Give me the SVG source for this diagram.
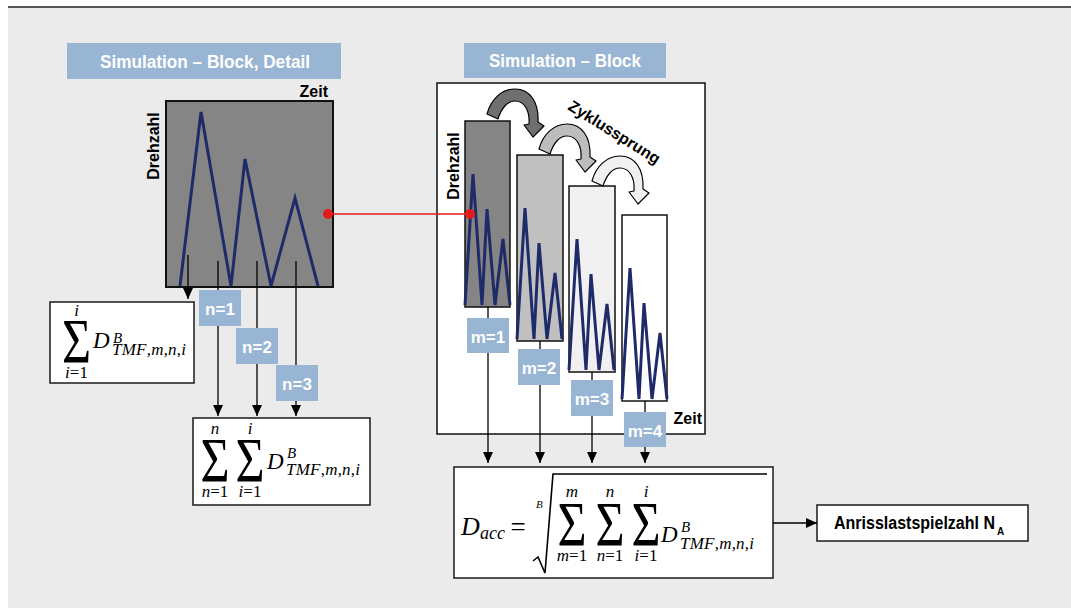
<svg xmlns="http://www.w3.org/2000/svg" width="1071" height="609" viewBox="0 0 1071 609">
  <style>
    .sans{font-family:"Liberation Sans",Arial,sans-serif;font-weight:bold}
    .title{font-size:18px;fill:#fff}
    .axis{font-size:16px;fill:#000}
    .tag rect{fill:#98b5d3}
    .tag text{font-family:"Liberation Sans",Arial,sans-serif;font-weight:bold;font-size:17px;fill:#fff;text-anchor:middle}
    .math{font-family:"Liberation Serif","Times New Roman",serif;font-style:italic;fill:#000}
    .up{font-style:normal}
    .sig{font-family:"Liberation Serif","Times New Roman",serif;font-size:50px;text-anchor:middle;fill:#000}
    .box{fill:#fff;stroke:#1a1a1a;stroke-width:1.5}
    .wire{stroke:#000;stroke-width:1.3;fill:none}
  </style>
  <defs>
    <marker id="tip" viewBox="0 0 11 10" refX="11" refY="5" markerWidth="11" markerHeight="10" markerUnits="userSpaceOnUse" orient="auto">
      <path d="M0,0 L11,5 L0,10 Z" fill="#000"/>
    </marker>
    <!-- speed trace inside one block -->
    <polyline id="zz" points="0,184 8,53 17,184 22,88 30,184 38,118 45,184" fill="none" stroke="#1f2b69" stroke-width="3"/>
    <!-- curved block arrow for the cycle jump -->
    <path id="jump" d="M487,114 C491,99 502,89 515,89 C530,89 539,102 538,122 L544,126 L533,137 L524,125 L529,124 C530,110 524,101 515,101 C507,101 501,109 498,119 Z" stroke="#000" stroke-width="1.2" stroke-linejoin="round"/>
  </defs>

  <!-- page -->
  <rect x="0" y="0" width="1071" height="609" fill="#fff"/>
  <rect x="8" y="7" width="1063" height="601" fill="#ebebeb"/>
  <line x1="8" y1="7" x2="1071" y2="7" stroke="#222" stroke-width="1.5"/>

  <!-- headers -->
  <g id="title-detail">
    <rect x="67" y="43" width="274" height="36" fill="#98b5d3"/>
    <text class="sans title" x="205" y="68" text-anchor="middle" textLength="210" lengthAdjust="spacingAndGlyphs">Simulation – Block, Detail</text>
  </g>
  <g id="title-block">
    <rect x="464" y="43" width="202" height="35" fill="#98b5d3"/>
    <text class="sans title" x="565" y="67" text-anchor="middle" textLength="152" lengthAdjust="spacingAndGlyphs">Simulation – Block</text>
  </g>

  <!-- single block in detail -->
  <g id="detail-plot">
    <rect x="166" y="101" width="167" height="186" fill="#858585" stroke="#111" stroke-width="2"/>
    <polyline points="180,286 201,112 231,286 245,159 271,286 295,198 318,286" fill="none" stroke="#1f2b69" stroke-width="3"/>
    <text class="sans axis" x="328" y="97" text-anchor="end">Zeit</text>
    <text class="sans axis" transform="translate(159,146) rotate(-90)" text-anchor="middle">Drehzahl</text>
  </g>

  <!-- block sequence -->
  <g id="block-frame">
    <rect x="437" y="83" width="268" height="351" fill="#fff" stroke="#111" stroke-width="1.5"/>
    <text class="sans axis" transform="translate(459,166) rotate(-90)" text-anchor="middle">Drehzahl</text>
    <text class="sans axis" x="702" y="424" text-anchor="end">Zeit</text>
    <text class="sans" font-size="16" transform="translate(567,109) rotate(32)">Zyklussprung</text>
  </g>
  <g id="block-m1">
    <rect x="465" y="121" width="45" height="186" fill="#858585" stroke="#111" stroke-width="1.5"/>
    <use href="#zz" transform="translate(465,121)"/>
  </g>
  <g id="block-m2">
    <rect x="517" y="155" width="46" height="186" fill="#c0c0c0" stroke="#111" stroke-width="1.5"/>
    <use href="#zz" transform="translate(517,155)"/>
  </g>
  <g id="block-m3">
    <rect x="569" y="186" width="46" height="186" fill="#f0f0f0" stroke="#111" stroke-width="1.5"/>
    <use href="#zz" transform="translate(569,186)"/>
  </g>
  <g id="block-m4">
    <rect x="622" y="215" width="45" height="186" fill="#fff" stroke="#111" stroke-width="1.5"/>
    <use href="#zz" transform="translate(622,215)"/>
  </g>
  <g id="cycle-jumps">
    <use href="#jump" fill="#6f6f6f"/>
    <use href="#jump" fill="#bdbdbd" transform="translate(52,35)"/>
    <use href="#jump" fill="#f0f0f0" transform="translate(105,67)"/>
  </g>

  <!-- damage sum over one cycle -->
  <g id="sum-i">
    <rect class="box" x="50" y="302" width="144" height="81"/>
    <text class="math" x="76.5" y="316" font-size="17" text-anchor="middle">i</text>
    <text class="sig" transform="translate(76.5,363) scale(1,1.27)">Σ</text>
    <text class="math" x="76.5" y="378" font-size="17" text-anchor="middle">i<tspan class="up">=1</tspan></text>
    <text class="math" x="93" y="348" font-size="23">D</text>
    <text class="math" x="113" y="343" font-size="15">B</text>
    <text class="math" x="112" y="355" font-size="17" textLength="74">TMF<tspan class="up">,</tspan>m<tspan class="up">,</tspan>n<tspan class="up">,</tspan>i</text>
  </g>

  <!-- damage sum over all cycles of a block -->
  <g id="sum-n-i">
    <rect class="box" x="193" y="418" width="177" height="87"/>
    <text class="math" x="215" y="434" font-size="17" text-anchor="middle">n</text>
    <text class="sig" transform="translate(215,482) scale(1,1.27)">Σ</text>
    <text class="math" x="215" y="497" font-size="17" text-anchor="middle">n<tspan class="up">=1</tspan></text>
    <text class="math" x="250" y="434" font-size="17" text-anchor="middle">i</text>
    <text class="sig" transform="translate(250,482) scale(1,1.27)">Σ</text>
    <text class="math" x="250" y="497" font-size="17" text-anchor="middle">i<tspan class="up">=1</tspan></text>
    <text class="math" x="267" y="469" font-size="23">D</text>
    <text class="math" x="287" y="458" font-size="15">B</text>
    <text class="math" x="286" y="475" font-size="17" textLength="74">TMF<tspan class="up">,</tspan>m<tspan class="up">,</tspan>n<tspan class="up">,</tspan>i</text>
  </g>

  <!-- accumulated damage -->
  <g id="sum-acc">
    <rect class="box" x="454" y="467" width="319" height="111"/>
    <text class="math" x="461" y="535" font-size="26">D</text>
    <text class="math" x="480" y="539" font-size="18">acc</text>
    <text class="math up" x="518" y="536" font-size="27" text-anchor="middle">=</text>
    <text class="math" x="536" y="508" font-size="11">B</text>
    <path d="M533,561 L538,557 L545,573 L553,474 L767,474" fill="none" stroke="#000" stroke-width="1.6"/>
    <text class="math" x="572" y="497" font-size="17" text-anchor="middle">m</text>
    <text class="sig" transform="translate(572,546) scale(1,1.27)">Σ</text>
    <text class="math" x="572" y="561" font-size="17" text-anchor="middle">m<tspan class="up">=1</tspan></text>
    <text class="math" x="610" y="497" font-size="17" text-anchor="middle">n</text>
    <text class="sig" transform="translate(610,546) scale(1,1.27)">Σ</text>
    <text class="math" x="610" y="561" font-size="17" text-anchor="middle">n<tspan class="up">=1</tspan></text>
    <text class="math" x="646" y="497" font-size="17" text-anchor="middle">i</text>
    <text class="sig" transform="translate(646,546) scale(1,1.27)">Σ</text>
    <text class="math" x="646" y="561" font-size="17" text-anchor="middle">i<tspan class="up">=1</tspan></text>
    <text class="math" x="661" y="542" font-size="23">D</text>
    <text class="math" x="681" y="532" font-size="15">B</text>
    <text class="math" x="680" y="549" font-size="17" textLength="74">TMF<tspan class="up">,</tspan>m<tspan class="up">,</tspan>n<tspan class="up">,</tspan>i</text>
  </g>

  <g id="result">
    <rect class="box" x="817" y="505" width="211" height="36"/>
    <text class="sans" x="834" y="529" font-size="18" textLength="161" lengthAdjust="spacingAndGlyphs">Anrisslastspielzahl N</text>
    <text class="sans" x="997" y="535" font-size="10">A</text>
  </g>

  <!-- connectors -->
  <g id="connectors">
    <path class="wire" d="M188,255 V299" marker-end="url(#tip)"/>
    <path class="wire" d="M218,261 V416" marker-end="url(#tip)"/>
    <path class="wire" d="M257,261 V416" marker-end="url(#tip)"/>
    <path class="wire" d="M296,261 V416" marker-end="url(#tip)"/>
    <path class="wire" d="M488,307 V463" marker-end="url(#tip)"/>
    <path class="wire" d="M540,341 V463" marker-end="url(#tip)"/>
    <path class="wire" d="M592,372 V463" marker-end="url(#tip)"/>
    <path class="wire" d="M645,401 V463" marker-end="url(#tip)"/>
    <path class="wire" d="M773,523 H817" marker-end="url(#tip)"/>
    <line x1="328" y1="214" x2="470" y2="214" stroke="#e31b1b" stroke-width="1.3"/>
    <circle cx="328" cy="214" r="5" fill="#e31b1b"/>
    <circle cx="470" cy="214" r="5" fill="#e31b1b"/>
  </g>

  <!-- cycle and block indices -->
  <g id="tag-n1" class="tag"><rect x="199" y="290" width="42" height="36"/><text x="220" y="315">n=1</text></g>
  <g id="tag-n2" class="tag"><rect x="236" y="328" width="42" height="36"/><text x="257" y="353">n=2</text></g>
  <g id="tag-n3" class="tag"><rect x="276" y="365" width="42" height="36"/><text x="297" y="390">n=3</text></g>
  <g id="tag-m1" class="tag"><rect x="467" y="318" width="42" height="35"/><text x="488" y="343">m=1</text></g>
  <g id="tag-m2" class="tag"><rect x="518" y="349" width="42" height="36"/><text x="539" y="374">m=2</text></g>
  <g id="tag-m3" class="tag"><rect x="571" y="380" width="42" height="36"/><text x="592" y="405">m=3</text></g>
  <g id="tag-m4" class="tag"><rect x="624" y="412" width="42" height="35"/><text x="645" y="437">m=4</text></g>
</svg>
